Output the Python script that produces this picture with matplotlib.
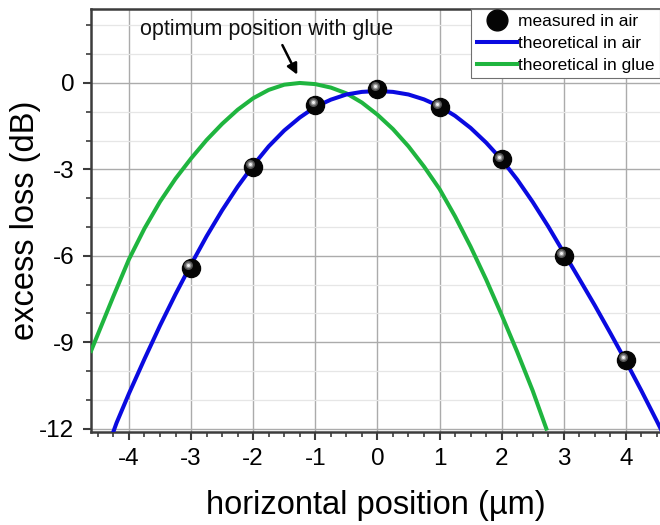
import numpy as np
import matplotlib
matplotlib.use("Agg")
import matplotlib.pyplot as plt
from matplotlib.ticker import MultipleLocator
from matplotlib.transforms import offset_copy

plt.rcParams['font.family'] = ['Liberation Sans', 'DejaVu Sans']

# measured points (air)
meas_x = [-3, -2, -1, 0, 1, 2, 3, 4]
meas_y = [-6.42, -2.92, -0.76, -0.21, -0.82, -2.65, -6.0, -9.6]

# theoretical curve in air
air_x = [-4.25, -4.2, -4.0, -3.75, -3.5, -3.25, -3.0, -2.75, -2.5, -2.25, -2.0,
         -1.75, -1.5, -1.25, -1.0, -0.75, -0.5, -0.25, 0.0, 0.25, 0.5, 0.75,
         1.0, 1.25, 1.5, 1.75, 2.0, 2.25, 2.5, 2.75, 3.0, 3.25, 3.5, 3.75,
         4.0, 4.25, 4.5, 4.56]
air_y = [-12.1, -11.8, -10.78, -9.58, -8.42, -7.33, -6.3, -5.32, -4.42, -3.6, -2.86,
         -2.2, -1.65, -1.2, -0.83, -0.58, -0.40, -0.31, -0.28, -0.31, -0.40, -0.57,
         -0.81, -1.14, -1.56, -2.07, -2.66, -3.35, -4.13, -4.98, -5.89, -6.8, -7.72, -8.68,
         -9.66, -10.68, -11.74, -12.0]

# theoretical curve in glue
glue_x = [-4.61, -4.5, -4.25, -4.0, -3.75, -3.5, -3.25, -3.0, -2.75, -2.5, -2.25,
          -2.0, -1.75, -1.5, -1.25, -1.0, -0.75, -0.5, -0.25, 0.0, 0.25, 0.5,
          0.75, 1.0, 1.25, 1.5, 1.75, 2.0, 2.25, 2.5, 2.72]
glue_y = [-9.3, -8.72, -7.4, -6.12, -5.05, -4.12, -3.32, -2.62, -1.98, -1.42, -0.93,
          -0.53, -0.24, -0.06, 0.0, -0.04, -0.16, -0.36, -0.68, -1.1, -1.6, -2.2,
          -2.9, -3.68, -4.63, -5.68, -6.82, -8.05, -9.33, -10.68, -12.0]

fig = plt.figure(figsize=(6.6, 5.25), dpi=100)
ax = fig.add_axes([0.138, 0.178, 0.862, 0.805])

ax.set_xlim(-4.61, 4.55)
ax.set_ylim(-12.1, 2.57)

# grid
ax.xaxis.set_major_locator(MultipleLocator(1))
ax.xaxis.set_minor_locator(MultipleLocator(0.25))
ax.yaxis.set_major_locator(MultipleLocator(3))
ax.yaxis.set_minor_locator(MultipleLocator(1))
ax.grid(True, which='major', color='#ababab', linewidth=1.0)
ax.grid(True, which='minor', axis='y', color='#e6e6e6', linewidth=0.9)
ax.set_axisbelow(True)

ax.plot(glue_x, glue_y, color='#1fb53f', lw=2.9, label='theoretical in glue', zorder=3)
ax.plot(air_x, air_y, color='#0a0ae0', lw=2.9, label='theoretical in air', zorder=3)

# spheres: black ball plus a small highlight
ax.plot(meas_x, meas_y, 'o', color='#050505', ms=13, zorder=4, label='measured in air')
hl = offset_copy(ax.transData, fig=fig, x=-2.0, y=2.0, units='points')
ax.plot(meas_x, meas_y, 'o', color='#555555', ms=6.5, mew=0, zorder=5, transform=hl)
ax.plot(meas_x, meas_y, 'o', color='#9a9a9a', ms=4.2, mew=0, zorder=6, transform=hl)
ax.plot(meas_x, meas_y, 'o', color='#f0f0f0', ms=2.2, mew=0, zorder=7, transform=hl)

handles, labels = ax.get_legend_handles_labels()
order = [2, 1, 0]
leg = ax.legend([handles[i] for i in order], [labels[i] for i in order],
                loc='upper right', fontsize=12.5, frameon=True, fancybox=False,
                edgecolor='#707070', borderpad=0.3, handlelength=2.3,
                handletextpad=0.1, labelspacing=0.38, borderaxespad=0.0,
                framealpha=1.0, markerscale=1.15)
leg.get_frame().set_linewidth(0.8)

ax.text(-1.78, 1.85, 'optimum position with glue', fontsize=15.5,
        ha='center', va='center', color='#111111')
ax.annotate('', xy=(-1.27, 0.2), xytext=(-1.55, 1.4),
            arrowprops=dict(arrowstyle='-|>', color='black', lw=1.8,
                            mutation_scale=16))

for s in ['left', 'bottom', 'top']:
    ax.spines[s].set_color('#3c3c3c')
    ax.spines[s].set_linewidth(1.8)
ax.spines['right'].set_visible(False)

ax.tick_params(which='major', direction='out', length=6, width=1.5,
               color='#3c3c3c', labelsize=17.5, pad=6)
ax.tick_params(which='minor', direction='out', length=3.5, width=1.2, color='#3c3c3c')
ax.tick_params(axis='y', which='both', right=False)
ax.tick_params(axis='x', which='both', top=False)

ax.set_yticks([0, -3, -6, -9, -12])
ax.set_yticklabels(['0', '-3', '-6', '-9', '-12'])
ax.set_xticks([-4, -3, -2, -1, 0, 1, 2, 3, 4])
ax.set_xticklabels(['-4', '-3', '-2', '-1', '0', '1', '2', '3', '4'])

ax.set_xlabel('horizontal position (µm)', fontsize=23.5, labelpad=14)
ax.set_ylabel('excess loss (dB)', fontsize=23.5)
ax.yaxis.set_label_coords(-0.088, 0.5)

fig.savefig('out.png', dpi=100)
